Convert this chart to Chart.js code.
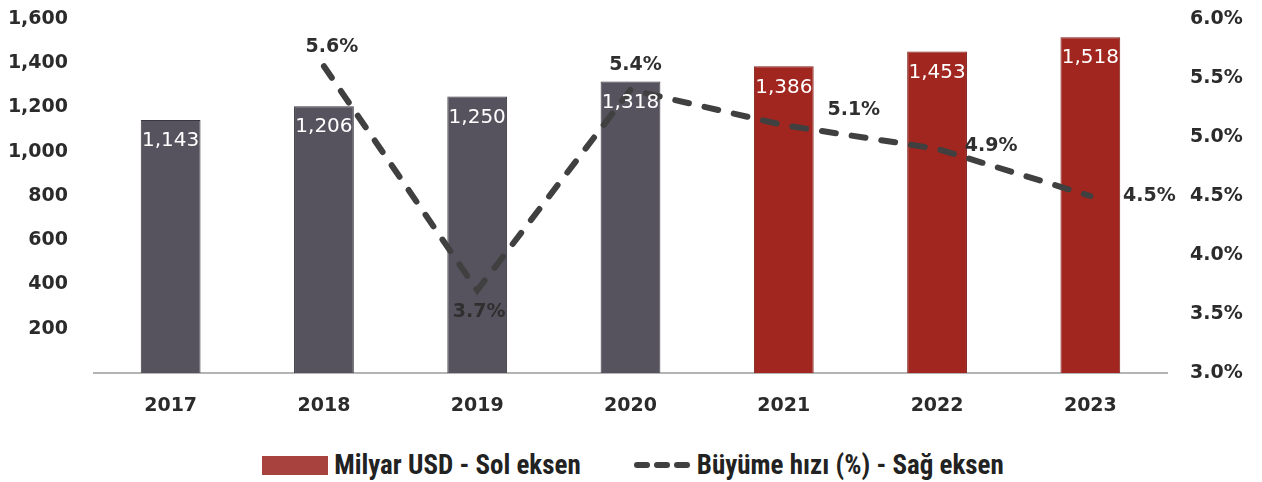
<!DOCTYPE html>
<html>
<head>
<meta charset="utf-8">
<script src="https://cdn.jsdelivr.net/npm/chart.js@4/dist/chart.umd.min.js"></script>
<style>
  html, body { margin: 0; padding: 0; background: #fff; }
  #wrap { position: relative; width: 1262px; height: 440px; }
  #legend {
    display: flex; justify-content: center; align-items: center;
    height: 50px; padding-left: 4px;
    font-family: 'Roboto Condensed', Roboto, sans-serif;
    font-size: 27px; font-weight: bold; color: #222;
  }
  .swatch { width: 66px; height: 19px; background: #a8423e; margin-right: 6px; }
  .gap { width: 52px; }
  #legend svg { margin-right: 2px; }
</style>
</head>
<body>
<div id="wrap"><canvas id="chart"></canvas></div>
<div id="legend">
  <div class="swatch"></div><span>Milyar USD - Sol eksen</span>
  <div class="gap"></div>
  <svg width="62" height="18"><line x1="4" y1="9" x2="58" y2="9" stroke="#404040" stroke-width="6" stroke-linecap="round" stroke-dasharray="10 10"/></svg><span>Büyüme hızı (%) - Sağ eksen</span>
</div>
<script>
const years   = ['2017', '2018', '2019', '2020', '2021', '2022', '2023'];
const usdBn   = [1143, 1206, 1250, 1318, 1386, 1453, 1518];
const growth  = [null, 5.6, 3.7, 5.4, 5.1, 4.9, 4.5];
const leftTicks  = [0, 1600, 200];   // min, max, step
const rightTicks = [3.0, 6.0, 0.5];

// actual years grey, forecasts red
const barColors = years.map(y => +y <= 2020 ? '#57535e' : '#a0261f');
const barBorders = years.map(y => +y <= 2020 ? '#3a3740' : '#7e1c17');

// label offsets for the growth line, relative to each point
const growthLabelOffset = [null, [8, -19], [2, 22], [5, -25], [70, -15], [54, -3], [59, 0]];

const TICK_FONT = { family: 'DejaVu Sans', size: 19, weight: 'bold' };

const labelPlugin = {
  id: 'valueLabels',
  afterDatasetsDraw(chart) {
    const c = chart.ctx;
    c.save();
    c.textAlign = 'center';
    c.textBaseline = 'middle';

    // bar values, white, just inside top
    c.font = '20px "DejaVu Sans"';
    c.fillStyle = '#ffffff';
    chart.getDatasetMeta(1).data.forEach((el, i) => {
      c.fillText(usdBn[i].toLocaleString('en-US'), el.x, el.y + 21);
    });

    // growth values
    c.font = 'bold 19px "DejaVu Sans"';
    c.fillStyle = '#2f2f2f';
    chart.getDatasetMeta(0).data.forEach((el, i) => {
      if (growth[i] == null) return;
      const off = growthLabelOffset[i];
      c.fillText(growth[i].toFixed(1) + '%', el.x + off[0], el.y + off[1]);
    });
    c.restore();
  }
};

// vertical axes: keep the tick padding from pushing the plot down
function fixVertical(width) {
  return scale => {
    scale.width = width;
    scale.paddingTop = 0;
    scale.paddingBottom = 0;
  };
}

new Chart(document.getElementById('chart').getContext('2d'), {
  type: 'bar',
  data: {
    labels: years,
    datasets: [
      {
        type: 'line',
        label: 'Büyüme hızı (%) - Sağ eksen',
        data: growth,
        yAxisID: 'y1',
        order: 0,
        borderColor: '#404040',
        borderWidth: 6,
        borderDash: [14, 16],
        borderCapStyle: 'round',
        pointRadius: 0,
        tension: 0,
        fill: false,
      },
      {
        label: 'Milyar USD - Sol eksen',
        data: usdBn,
        yAxisID: 'y',
        order: 1,
        backgroundColor: barColors,
        borderColor: barBorders,
        borderWidth: 1,
        barPercentage: 0.39,
        categoryPercentage: 1,
      },
    ],
  },
  options: {
    responsive: true,
    maintainAspectRatio: false,
    animation: false,
    layout: { padding: { top: 19, left: 0, right: 0, bottom: 0 } },
    plugins: {
      legend: { display: false },
      tooltip: { enabled: false },
    },
    scales: {
      x: {
        grid: { display: false, drawTicks: false },
        border: { display: true, color: '#b4b4b4', width: 2 },
        ticks: { color: '#2b2b2b', font: TICK_FONT, padding: 22 },
        afterFit(scale) { scale.height = 67; },
      },
      y: {
        position: 'left',
        min: leftTicks[0], max: leftTicks[1],
        grid: { display: false, drawTicks: false },
        border: { display: false },
        ticks: {
          stepSize: leftTicks[2],
          color: '#2b2b2b', font: TICK_FONT, padding: 26,
          callback: v => v === 0 ? '' : v.toLocaleString('en-US'),
        },
        afterFit: fixVertical(94),
      },
      y1: {
        position: 'right',
        min: rightTicks[0], max: rightTicks[1],
        grid: { display: false, drawTicks: false },
        border: { display: false },
        ticks: {
          stepSize: rightTicks[2],
          color: '#2b2b2b', font: TICK_FONT, padding: 23,
          callback: v => v.toFixed(1) + '%',
        },
        afterFit: fixVertical(95),
      },
    },
  },
  plugins: [labelPlugin],
});
</script>
</body>
</html>
